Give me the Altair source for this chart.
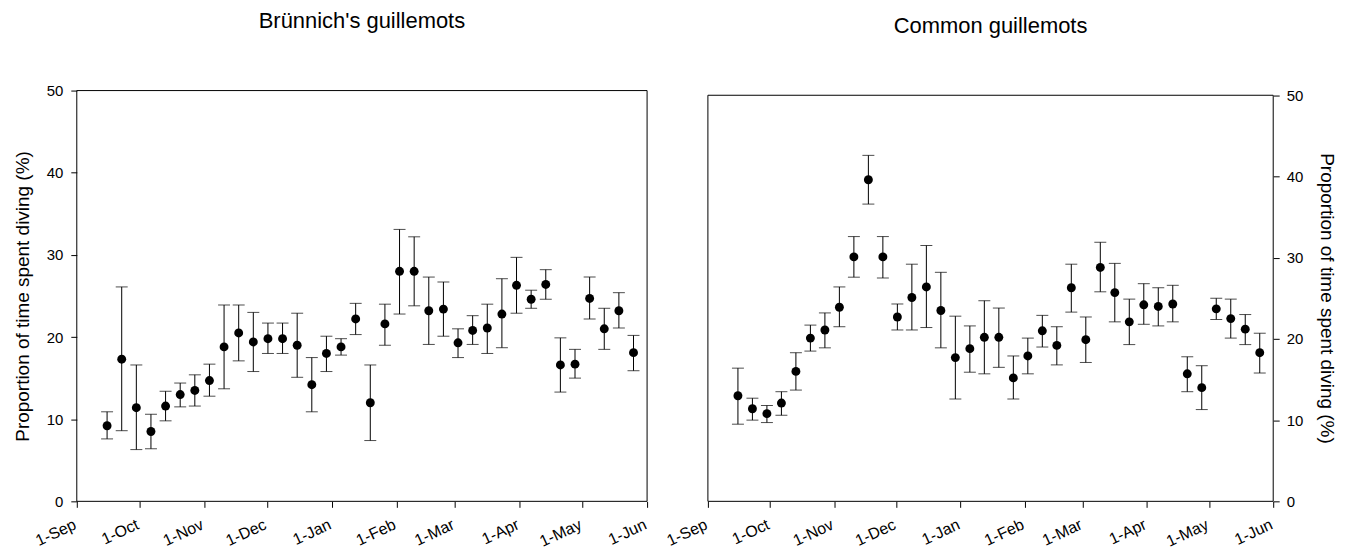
import altair as alt
import pandas as pd

# Weekly sample dates (midpoints), shared by both panels
dates = [
    "2013-09-15T12:00", "2013-09-22T12:00", "2013-09-29T12:00",
    "2013-10-06T12:00", "2013-10-13T12:00", "2013-10-20T12:00", "2013-10-27T12:00",
    "2013-11-03T12:00", "2013-11-10T12:00", "2013-11-17T12:00", "2013-11-24T12:00",
    "2013-12-01T12:00", "2013-12-08T12:00", "2013-12-15T12:00", "2013-12-22T12:00", "2013-12-29T12:00",
    "2014-01-05T12:00", "2014-01-12T12:00", "2014-01-19T12:00", "2014-01-26T12:00",
    "2014-02-02T12:00", "2014-02-09T12:00", "2014-02-16T12:00", "2014-02-23T12:00",
    "2014-03-02T12:00", "2014-03-09T12:00", "2014-03-16T12:00", "2014-03-23T12:00", "2014-03-30T12:00",
    "2014-04-06T12:00", "2014-04-13T12:00", "2014-04-20T12:00", "2014-04-27T12:00",
    "2014-05-04T12:00", "2014-05-11T12:00", "2014-05-18T12:00", "2014-05-25T12:00",
]

# Brünnich's guillemots
brunnich_mean = [9.2, 17.3, 11.4, 8.5, 11.6, 13.0, 13.5, 14.7, 18.8, 20.5, 19.4, 19.8, 19.8,
                 19.0, 14.2, 18.0, 18.8, 22.2, 12.0, 21.6, 28.0, 28.0, 23.2, 23.4, 19.3,
                 20.8, 21.1, 22.8, 26.3, 24.6, 26.4, 16.6, 16.7, 24.7, 21.0, 23.2, 18.1]
brunnich_hi = [10.9, 26.1, 16.6, 10.6, 13.4, 14.4, 15.4, 16.7, 23.9, 23.9, 23.0, 21.7, 21.7,
               22.9, 17.5, 20.1, 19.8, 24.1, 16.6, 24.0, 33.1, 32.2, 27.3, 26.7, 21.0,
               22.6, 24.0, 27.1, 29.7, 25.7, 28.2, 19.9, 18.5, 27.3, 23.5, 25.4, 20.2]
brunnich_lo = [7.6, 8.6, 6.3, 6.4, 9.8, 11.5, 11.6, 12.8, 13.7, 17.1, 15.8, 18.0, 18.0,
               15.1, 10.9, 15.8, 17.8, 20.3, 7.4, 19.0, 22.8, 23.8, 19.1, 20.1, 17.5,
               19.1, 18.0, 18.7, 22.9, 23.5, 24.6, 13.3, 15.0, 22.2, 18.5, 21.1, 15.9]

# Common guillemots
common_mean = [13.0, 11.4, 10.8, 12.1, 16.0, 20.1, 21.1, 23.9, 30.1, 39.6, 30.1, 22.7, 25.1,
               26.4, 23.5, 17.7, 18.8, 20.2, 20.2, 15.2, 17.9, 21.0, 19.2, 26.3, 19.9,
               28.8, 25.7, 22.1, 24.2, 24.0, 24.3, 15.7, 14.0, 23.7, 22.5, 21.2, 18.3]
common_hi = [16.4, 12.7, 11.8, 13.5, 18.3, 21.7, 23.2, 26.4, 32.6, 42.6, 32.6, 24.3, 29.2,
             31.5, 28.2, 22.8, 21.6, 24.7, 23.8, 17.9, 20.1, 22.9, 21.5, 29.2, 22.7,
             31.9, 29.3, 24.9, 26.8, 26.3, 26.6, 17.8, 16.7, 25.0, 24.9, 23.0, 20.7]
common_lo = [9.5, 10.0, 9.7, 10.6, 13.7, 18.5, 18.9, 21.5, 27.6, 36.6, 27.5, 21.1, 21.1,
             21.4, 18.9, 12.6, 15.9, 15.7, 16.5, 12.6, 15.7, 19.0, 16.8, 23.3, 17.1,
             25.8, 22.1, 19.3, 21.8, 21.6, 22.1, 13.5, 11.3, 22.4, 20.1, 19.3, 15.8]

month_ticks = [(2013, 9), (2013, 10), (2013, 11), (2013, 12), (2014, 1),
               (2014, 2), (2014, 3), (2014, 4), (2014, 5), (2014, 6)]

FONT = "Liberation Sans"
Y_TITLE = "Proportion of time spent diving (%)"

start = alt.DateTime(year=2013, month=9, date=1)
end = alt.DateTime(year=2014, month=6, date=1)
mid = alt.DateTime(year=2014, month=1, date=15, hours=12)
tick_values = [alt.DateTime(year=y, month=m, date=1) for y, m in month_ticks]


def panel(title, mean, lo, hi, ymax, y_axis, title_y, width):
    df = pd.DataFrame({"date": dates, "mean": mean, "lo": lo, "hi": hi})
    xscale = alt.Scale(domain=[start, end], nice=False)
    yscale = alt.Scale(domain=[0, ymax], nice=False, zero=True)
    xaxis = alt.Axis(values=tick_values, format="%-d-%b", labelAngle=-25,
                     labelAlign="right", labelBaseline="middle", labelPadding=16,
                     labelOffset=-2, tickSize=6, domain=False, grid=False, title=None,
                     labelFontSize=16, labelColor="black", tickColor="black")
    x = alt.X("date:T", scale=xscale, axis=xaxis)
    base = alt.Chart(df)
    bars = base.mark_rule(color="black", strokeWidth=1).encode(
        x=x, y=alt.Y("lo:Q", scale=yscale, axis=y_axis), y2="hi:Q")
    cap_hi = base.mark_tick(orient="horizontal", size=12, thickness=1, color="black").encode(
        x="date:T", y="hi:Q")
    cap_lo = base.mark_tick(orient="horizontal", size=12, thickness=1, color="black").encode(
        x="date:T", y="lo:Q")
    pts = base.mark_circle(size=80, color="black", opacity=1).encode(
        x="date:T", y="mean:Q")
    frame = alt.Chart().mark_rect(filled=False, stroke="black", strokeWidth=1).encode(
        x=alt.XDatum(start, type="temporal"), x2=alt.X2Datum(end),
        y=alt.YDatum(0, type="quantitative"), y2=alt.Y2Datum(50))
    head = alt.Chart().mark_text(text=title, fontSize=22, font=FONT, color="black",
                                 align="center", baseline="alphabetic").encode(
        x=alt.XDatum(mid, type="temporal"), y=alt.YDatum(title_y, type="quantitative"))
    return alt.layer(bars, cap_hi, cap_lo, pts, frame, head).properties(
        width=width, height=412)


left_axis = alt.Axis(values=[0, 10, 20, 30, 40, 50], title=Y_TITLE, orient="left",
                     tickSize=6, labelPadding=8, labelFontSize=15, titleFontSize=19,
                     titlePadding=14, titleFontWeight="normal", domain=False, grid=False,
                     labelColor="black", tickColor="black", titleColor="black")
right_axis = alt.Axis(values=[0, 10, 20, 30, 40, 50], title=Y_TITLE, orient="right",
                      tickSize=6, labelPadding=7, labelFontSize=15, titleFontSize=19,
                      titlePadding=14, titleFontWeight="normal", domain=False, grid=False,
                      labelColor="black", tickColor="black", titleColor="black",
                      titleY=208)

right_ymax = 50 * 412.3 / 407.6
left = panel("Brünnich's guillemots", brunnich_mean, brunnich_lo, brunnich_hi,
             50, left_axis, 57.65, 572)
right = panel("Common guillemots", common_mean, common_lo, common_hi,
              right_ymax, right_axis, 57.7, 567)

chart = alt.hconcat(left, right, spacing=61, bounds="flush").configure_view(
    stroke=None).configure_axis(labelFont=FONT, titleFont=FONT).properties(
    padding={"left": 5, "top": 0, "right": 5, "bottom": 5})

chart.save("out.html", embed_options={"renderer": "svg", "actions": False})
